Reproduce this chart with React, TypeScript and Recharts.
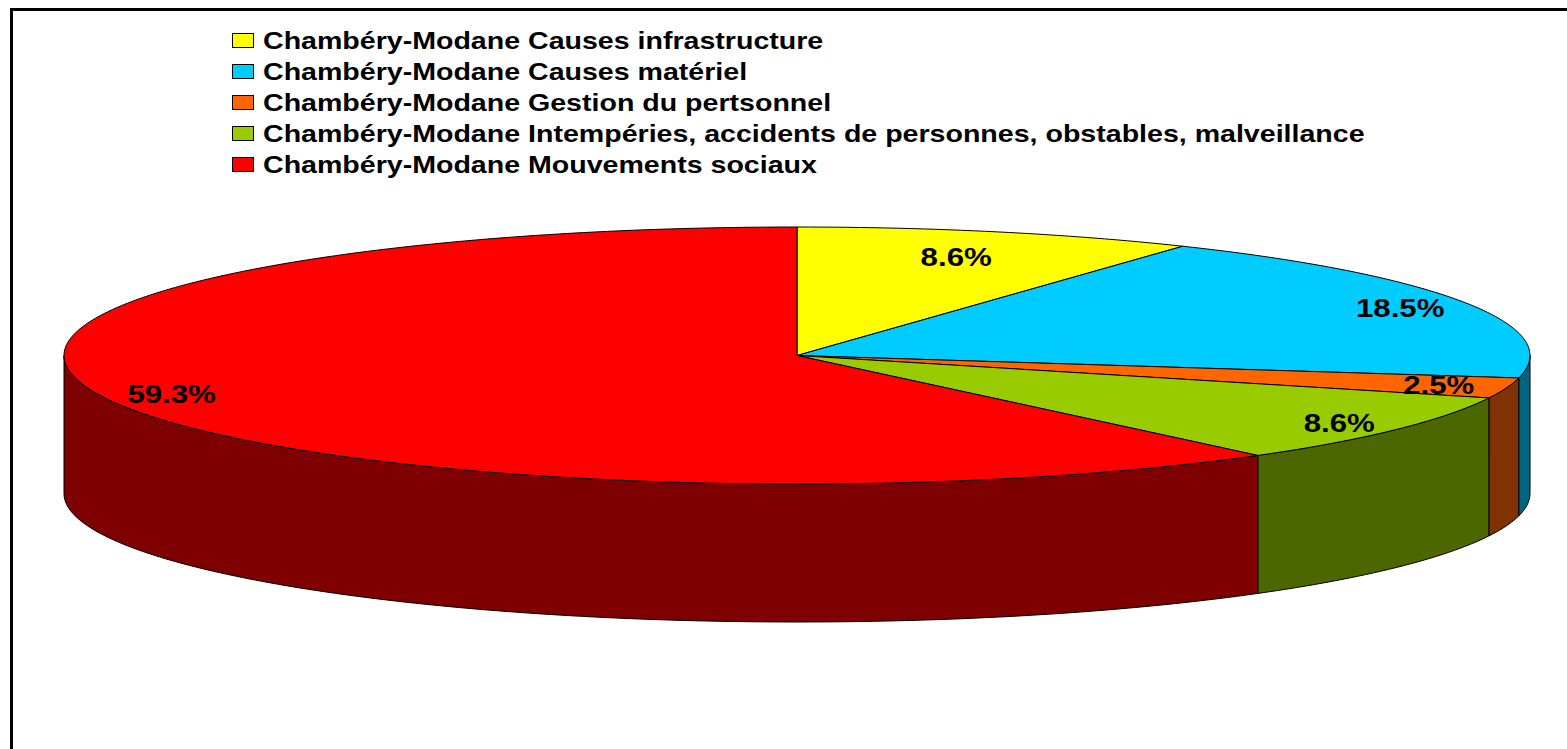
import { PieChart, Pie, Legend } from "recharts";

const causes = [
  "Chambéry-Modane Causes infrastructure",
  "Chambéry-Modane Causes matériel",
  "Chambéry-Modane Gestion du pertsonnel",
  "Chambéry-Modane Intempéries, accidents de personnes, obstables, malveillance",
  "Chambéry-Modane Mouvements sociaux",
];
const shares = [8.6, 18.5, 2.5, 8.6, 59.3];
const topColors = ["#FFFF00", "#00CCFF", "#FF6600", "#99CC00", "#FF0000"];
const sideColors = ["#808000", "#006680", "#7F3300", "#4C6600", "#7F0000"];

const data = causes.map((name, i) => ({ name, value: shares[i], fill: topColors[i] }));

const W = 1567;
const H = 749;
const CX = 797;
const CY = 355.5;
const RX = 733;
const TILT = 128.5 / 733; // vertical squash of the disc
const DEPTH = 138;
const FONT = "'Liberation Sans', Arial, sans-serif";

function pt(cx: number, cy: number, r: number, deg: number): [number, number] {
  const a = (deg * Math.PI) / 180;
  return [cx + r * Math.cos(a), cy - r * TILT * Math.sin(a)];
}

function arc(cx: number, cy: number, r: number, from: number, to: number): [number, number][] {
  const n = Math.max(2, Math.ceil(Math.abs(to - from)));
  const out: [number, number][] = [];
  for (let k = 0; k <= n; k++) out.push(pt(cx, cy, r, from + ((to - from) * k) / n));
  return out;
}

const toPath = (pts: [number, number][]) =>
  pts.map(([x, y], k) => `${k ? "L" : "M"}${x.toFixed(2)},${y.toFixed(2)}`).join("") + "Z";

// one slice of a tilted 3D pie: front wall first, then the top face
function Slice3D(props: any) {
  const { cx, cy, outerRadius, startAngle, endAngle, payload, name } = props;
  const i = causes.indexOf(payload?.name ?? name);
  const top = topColors[i] ?? props.fill;
  const side = sideColors[i] ?? "#000";
  const hi = Math.max(startAngle, endAngle);
  const lo = Math.min(startAngle, endAngle);

  const walls: string[] = [];
  for (const off of [-360, 0, 360]) {
    const a = Math.max(lo, -180 + off);
    const b = Math.min(hi, 0 + off);
    if (b - a > 0.01) {
      const upper = arc(cx, cy, outerRadius, b, a);
      const lower = arc(cx, cy + DEPTH, outerRadius, a, b);
      walls.push(toPath([...upper, ...lower]));
    }
  }
  const face = toPath([[cx, cy], ...arc(cx, cy, outerRadius, startAngle, endAngle)]);

  return (
    <g>
      {walls.map((d, k) => (
        <path key={k} d={d} fill={side} stroke="#000" strokeWidth={1} strokeLinejoin="round" />
      ))}
      <path d={face} fill={top} stroke="#000" strokeWidth={1} strokeLinejoin="round" />
    </g>
  );
}

function renderLabel(p: any) {
  // labels on the far (upper) side sit a bit further in
  const s = Math.max(0, Math.sin((p.midAngle * Math.PI) / 180));
  const [x, y] = pt(p.cx, p.cy, p.outerRadius * (0.905 - 0.13 * s ** 4), p.midAngle);
  return (
    <text
      x={0}
      y={0}
      transform={`translate(${x},${y}) scale(1.2,1)`}
      textAnchor="middle"
      dominantBaseline="central"
      fontFamily={FONT}
      fontWeight="bold"
      fontSize={26}
      fill="#000"
    >
      {`${p.value}%`}
    </text>
  );
}

function LegendBox({ payload }: any) {
  const items = payload?.length
    ? payload.map((e: any) => ({ label: e.value, color: e.color }))
    : causes.map((c, i) => ({ label: c, color: topColors[i] }));
  return (
    <div style={{ fontFamily: FONT, fontWeight: "bold", fontSize: 24, color: "#000" }}>
      {items.map((it: any) => (
        <div key={it.label} style={{ display: "flex", alignItems: "center", height: 31.1, whiteSpace: "nowrap" }}>
          <span
            style={{
              display: "inline-block",
              boxSizing: "border-box",
              width: 22,
              height: 15,
              background: it.color,
              border: "1px solid #000",
              marginRight: 9,
            }}
          />
          <span style={{ display: "inline-block", transform: "scaleX(1.19)", transformOrigin: "left center", lineHeight: "31px" }}>
            {it.label}
          </span>
        </div>
      ))}
    </div>
  );
}

export default function App() {
  return (
    <div style={{ position: "absolute", left: 0, top: 0, width: W, height: H, overflow: "hidden" }}>
      <div
        style={{
          position: "absolute",
          left: 10,
          top: 8,
          width: W - 10,
          height: H - 8,
          boxSizing: "border-box",
          borderTop: "3px solid #000",
          borderLeft: "3px solid #000",
        }}
      />
      <div style={{ position: "absolute", left: 0, top: 0 }}>
        <PieChart width={W} height={H} margin={{ top: 0, right: 0, bottom: 0, left: 0 }}>
          <Legend
            layout="vertical"
            align="center"
            verticalAlign="middle"
            wrapperStyle={{ left: 232, top: 24.5 }}
            content={(p: any) => <LegendBox payload={p.payload} />}
          />
          <Pie
            data={data}
            dataKey="value"
            nameKey="name"
            cx={CX}
            cy={CY}
            outerRadius={RX}
            startAngle={90}
            endAngle={-270}
            stroke="#000"
            labelLine={false}
            label={renderLabel}
            shape={Slice3D}
            inactiveShape={Slice3D}
            activeShape={Slice3D}
            isAnimationActive={false}
          />
        </PieChart>
      </div>
    </div>
  );
}
